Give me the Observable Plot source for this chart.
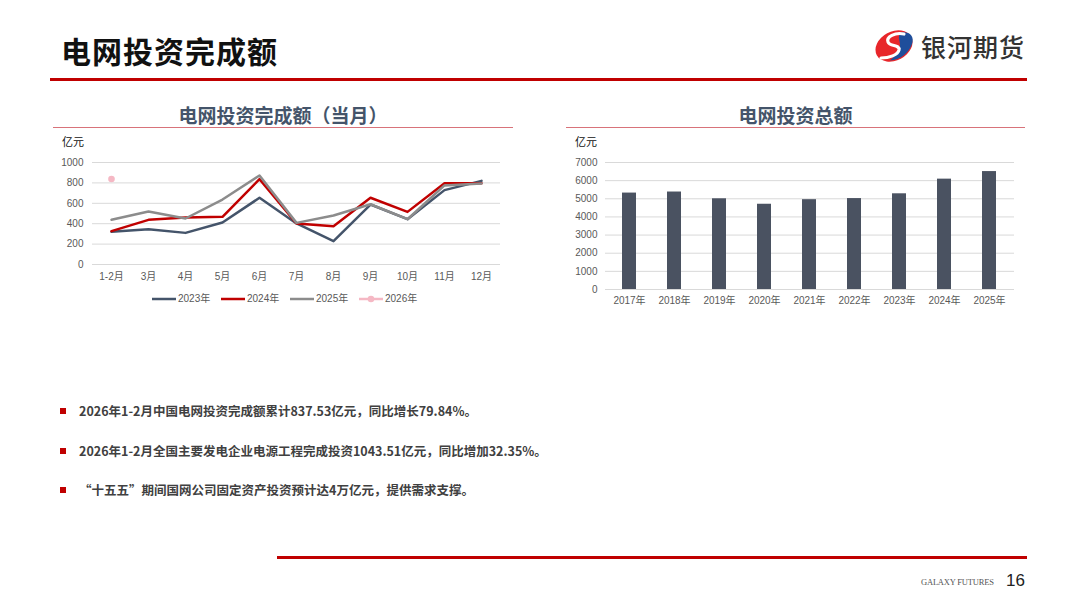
<!DOCTYPE html>
<html>
<head>
<meta charset="utf-8">
<script src="https://cdn.jsdelivr.net/npm/d3@7"></script>
<script src="https://cdn.jsdelivr.net/npm/@observablehq/plot@0.6"></script>
<style>
  html, body { margin:0; padding:0; background:#fff; }
  body { width:1080px; height:608px; position:relative; overflow:hidden; font-family:"Noto Sans CJK SC","Noto Sans",sans-serif; }
  .abs { position:absolute; }
  .main-title { left:61px; top:30px; font-size:30px; font-weight:700; color:#111; line-height:40px; letter-spacing:1px; }
  .hr-top { left:50px; top:78px; width:977px; height:3px; background:#c00000; }
  .hr-bot { left:277px; top:556px; width:750px; height:3px; background:#c00000; }
  .brand { left:921px; top:29px; font-size:25px; font-weight:500; color:#333; line-height:34px; letter-spacing:1px; }
  .panel-title { font-size:19px; font-weight:700; color:#44546a; line-height:26px; text-align:center; }
  .panel-rule { height:1.6px; background:#d8737a; }
  .unit { font-size:11px; color:#111; line-height:14px; }
  .legend { font-family:"Liberation Sans","Noto Sans CJK SC",sans-serif; font-size:10px; color:#595959; line-height:14px; }
  .bullet { left:60px; width:6px; height:6px; background:#c00000; }
  .btext { left:79px; font-size:12.5px; font-weight:700; color:#404040; line-height:18px; white-space:nowrap; }
  .footer-en { left:921px; top:576px; font-family:"Liberation Serif",serif; font-size:8.5px; color:#555; letter-spacing:-0.2px; line-height:12px; }
  .page { left:1006px; top:570px; font-family:"Liberation Sans",sans-serif; font-size:17px; color:#222; line-height:22px; }
</style>
</head>
<body>
<script>
// ---- data ----
const months = ["1-2月","3月","4月","5月","6月","7月","8月","9月","10月","11月","12月"];
const seriesNames = ["2023年","2024年","2025年","2026年"];
const v2023 = [320, 346, 310, 412, 654, 402, 229, 588, 444, 729, 820];
const v2024 = [327, 438, 461, 467, 837, 402, 376, 654, 516, 797, 797];
const v2025 = [438, 520, 451, 637, 873, 408, 480, 591, 444, 775, 794];
const v2026 = [837.53];
const monthTicks = [0, 200, 400, 600, 800, 1000];

const years = ["2017年","2018年","2019年","2020年","2021年","2022年","2023年","2024年","2025年"];
const totals = [5315, 5373, 5000, 4699, 4951, 5012, 5275, 6083, 6500];
const totalTicks = [0, 1000, 2000, 3000, 4000, 5000, 6000, 7000];

const seriesColors = ["#44546a", "#c00000", "#8c8c8c", "#f5b8c4"];
</script>

<div class="abs main-title">电网投资完成额</div>
<div class="abs hr-top"></div>

<svg class="abs" style="left:873px;top:28px" width="42" height="36" viewBox="0 0 42 36">
  <ellipse cx="21" cy="18" rx="19.5" ry="14.5" transform="rotate(-28 21 18)" fill="#e8262a"/>
  <path d="M28 4.5 C36 3 42 8 39 16 C36 25 27 32 17 32.5 C22 28 27 22 27 17 C27 12 24 9 28 4.5 Z" fill="#1f4e9b"/>
  <path d="M31 6 C22 4 13 9 15 14 C17 19 27 16 26 22 C25 27 16 30 8 30" fill="none" stroke="#fff" stroke-width="3.2" stroke-linecap="round"/>
</svg>
<div class="abs brand">银河期货</div>

<!-- left panel -->
<div class="abs panel-title" style="left:53px;top:102px;width:460px;">电网投资完成额（当月）</div>
<div class="abs panel-rule" style="left:53px;top:126.5px;width:460px;"></div>
<div class="abs unit" style="left:62px;top:134px;">亿元</div>
<div id="left" class="abs" style="left:53px;top:150px;"></div>
<div id="legend" class="abs legend" style="left:0;top:292px;width:560px;height:14px;"></div>

<!-- right panel -->
<div class="abs panel-title" style="left:566px;top:102px;width:459px;">电网投资总额</div>
<div class="abs panel-rule" style="left:566px;top:126.5px;width:459px;"></div>
<div class="abs unit" style="left:575px;top:134px;">亿元</div>
<div id="right" class="abs" style="left:566px;top:150px;"></div>

<!-- bullets -->
<div class="abs bullet" style="top:408px;"></div>
<div class="abs btext" style="top:402px;">2026年1-2月中国电网投资完成额累计837.53亿元，同比增长79.84%。</div>
<div class="abs bullet" style="top:448px;"></div>
<div class="abs btext" style="top:442px;">2026年1-2月全国主要发电企业电源工程完成投资1043.51亿元，同比增加32.35%。</div>
<div class="abs bullet" style="top:487px;"></div>
<div class="abs btext" style="top:481px;">“十五五”期间国网公司固定资产投资预计达4万亿元，提供需求支撑。</div>

<div class="abs hr-bot"></div>
<div class="abs footer-en">GALAXY FUTURES</div>
<div class="abs page">16</div>

<script>
const fontFam = "'Liberation Sans','Noto Sans CJK SC',sans-serif";

// ---- left chart table ----
const lineRows = [];
[v2023, v2024, v2025].forEach((arr, si) => {
  arr.forEach((v, i) => lineRows.push({month: months[i], value: v, series: seriesNames[si]}));
});
const dotRows = v2026.map((v, i) => ({month: months[i], value: v, series: seriesNames[3]}));

const left = Plot.plot({
  width: 460, height: 137,
  marginLeft: 39, marginRight: 13, marginTop: 12, marginBottom: 23,
  style: {fontFamily: fontFam, fontSize: "10px", color: "#595959", background: "transparent", overflow: "visible"},
  x: {type: "point", domain: months, padding: 0.5, label: null},
  y: {domain: [0, 1000], label: null},
  color: {domain: seriesNames, range: seriesColors},
  marks: [
    Plot.gridY(monthTicks, {stroke: "#d9d9d9", strokeOpacity: 1, strokeWidth: 1}),
    Plot.axisY(monthTicks, {tickSize: 0, tickPadding: 9, tickFormat: d => String(d), label: null}),
    Plot.axisX(months, {tickSize: 0, tickPadding: 8, label: null}),
    Plot.line(lineRows, {x: "month", y: "value", z: "series", stroke: "series", strokeWidth: 2.5}),
    Plot.dot(dotRows, {x: "month", y: "value", r: 3.3, fill: "series", stroke: "none"})
  ]
});
document.getElementById("left").appendChild(left);

// legend
const leg = document.getElementById("legend");
const legX = [152, 221, 290, 359];
seriesNames.forEach((name, i) => {
  const item = document.createElement("div");
  item.style.cssText = `position:absolute;left:${legX[i]}px;top:0;height:14px;display:flex;align-items:center;`;
  const sw = document.createElementNS("http://www.w3.org/2000/svg", "svg");
  sw.setAttribute("width", 24); sw.setAttribute("height", 14);
  sw.innerHTML = `<line x1="0" x2="24" y1="7" y2="7" stroke="${seriesColors[i]}" stroke-width="2.5"/>` +
    (i === 3 ? `<circle cx="12" cy="7" r="3.3" fill="${seriesColors[i]}"/>` : "");
  item.appendChild(sw);
  const t = document.createElement("span");
  t.textContent = name;
  t.style.marginLeft = "2px";
  item.appendChild(t);
  leg.appendChild(item);
});

// ---- right chart ----
const barRows = years.map((y, i) => ({year: y, value: totals[i]}));
const right = Plot.plot({
  width: 460, height: 160,
  marginLeft: 39, marginRight: 12, marginTop: 12, marginBottom: 21,
  style: {fontFamily: fontFam, fontSize: "10px", color: "#595959", background: "transparent", overflow: "visible"},
  x: {type: "band", domain: years, paddingInner: 0.685, paddingOuter: 0.34, label: null},
  y: {domain: [0, 7000], label: null},
  marks: [
    Plot.gridY(totalTicks, {stroke: "#d9d9d9", strokeOpacity: 1, strokeWidth: 1}),
    Plot.axisY(totalTicks, {tickSize: 0, tickPadding: 8, tickFormat: d => String(d), label: null}),
    Plot.axisX(years, {tickSize: 0, tickPadding: 7, label: null}),
    Plot.barY(barRows, {x: "year", y: "value", fill: "#4a5261"})
  ]
});
document.getElementById("right").appendChild(right);
</script>
</body>
</html>
